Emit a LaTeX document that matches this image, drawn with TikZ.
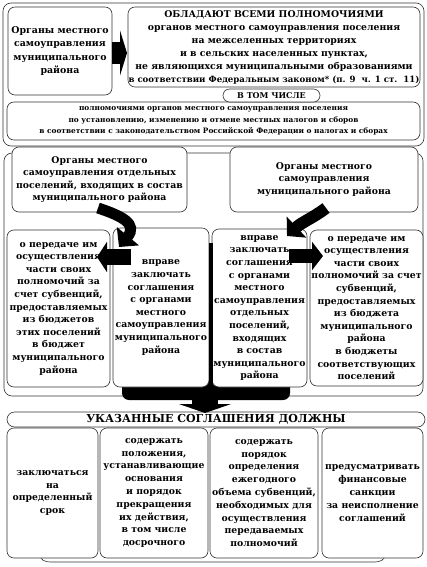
\documentclass[tikz,border=0pt]{standalone}
\usepackage{fontspec}
\setmainfont{DejaVu Serif}
\usetikzlibrary{arrows.meta}
\begin{document}
\begin{tikzpicture}[x=1pt,y=-1pt,
  box/.style={draw=black!80, line width=0.6pt, rounded corners=7pt, fill=white, align=center, inner sep=0pt},
  frame/.style={draw=black!80, line width=0.6pt, rounded corners=8pt},
  tA/.style={font=\fontsize{9.4}{13.5}\selectfont\bfseries},
  tB/.style={font=\fontsize{9.3}{13}\selectfont\bfseries},
  tC/.style={font=\fontsize{7.4}{11.5}\selectfont\bfseries},
  tM/.style={font=\fontsize{9.3}{12.6}\selectfont\bfseries},
  tK/.style={font=\fontsize{9.3}{12.8}\selectfont\bfseries},
  fat/.style={draw=black, line width=#1},
]
\useasboundingbox (0,0) rectangle (427,567);

% frames
\draw[frame] (3,3) rectangle (424,146);
\draw[frame] (4,153) rectangle (423,396);
\draw[draw=black!80, line width=0.6pt] (40,555) to[out=-90,in=180] (50,562) -- (375,562) to[out=0,in=-90] (385,555);

% top section
\node[box, tA, minimum width=104, minimum height=88] (A) at (60,51)
  {Органы местного\\самоуправления\\муниципального\\района};
\node[box, tB, minimum width=292, minimum height=80] (B) at (274,47)
  {ОБЛАДАЮТ ВСЕМИ ПОЛНОМОЧИЯМИ\\органов местного самоуправления поселения\\на межселенных территориях\\и в сельских населенных пунктах,\\не являющихся муниципальными образованиями\\{\fontsize{8.6}{13}\selectfont в соответствии Федеральным законом* (п. 9\ \ ч. 1 ст.\ \ 11)}};
\node[box, tC, minimum width=413, minimum height=38] (C) at (213.5,121)
  {полномочиями органов местного самоуправления поселения\\по установлению, изменению и отмене местных налогов и сборов\\в соответствии с законодательством Российской Федерации о налогах и сборах};
\node[box, font=\fontsize{8}{9}\selectfont\bfseries, rounded corners=6.5pt, minimum width=97, minimum height=13] (P) at (271.5,95.5) {В ТОМ ЧИСЛЕ};

\coordinate (a1) at (A.east |- 0,53);
\coordinate (b1) at (127,53);
\draw[fat=22pt, -{Triangle[length=7pt,width=45pt]}] (a1) -- (b1);

% middle section
\fill[rounded corners=7pt] (122,375) rectangle (290,400);
\node[box, tM, minimum width=175, minimum height=65] (D) at (99.5,179.5)
  {Органы местного\\самоуправления отдельных\\поселений, входящих в состав\\муниципального района};
\node[box, tM, minimum width=188, minimum height=65] (E) at (324,179.5)
  {Органы местного\\самоуправления\\муниципального района};
\node[box, tM, minimum width=103, minimum height=157] (F) at (58.5,308.5)
  {о передаче им\\осуществления\\части своих\\полномочий за\\счет субвенций,\\предоставляемых\\из бюджетов\\этих поселений\\в бюджет\\муниципального\\района};
\node[box, tM, minimum width=96, minimum height=159] (G) at (161,307.5)
  {вправе\\заключать\\соглашения\\с органами\\местного\\самоуправления\\муниципального\\района};
\node[box, tM, minimum width=95, minimum height=158] (H) at (259.5,308)
  {вправе\\заключать\\соглашения\\с органами\\местного\\самоуправления\\отдельных\\поселений,\\входящих\\в состав\\муниципального\\района};
\node[box, tM, minimum width=113, minimum height=156] (I) at (366.5,308)
  {о передаче им\\осуществления\\части своих\\полномочий за счет\\субвенций,\\предоставляемых\\из бюджета\\муниципального\\района\\в бюджеты\\соответствующих\\поселений};

% black bar between G and H
\fill (G.east |- 0,243) rectangle ([xshift=3.5pt]G.south east);

% curved arrows
\coordinate (d1) at (98,208);
\coordinate (g1) at (119,247);
\draw[fat=11pt, -{Triangle[length=14pt,width=28pt]}] (d1) .. controls (122,216) and (138,224) .. (g1);
\coordinate (e1) at (326,208);
\coordinate (h1) at (287,236);
\draw[fat=12pt, -{Triangle[length=13pt,width=28pt]}] (e1) .. controls (313,218) and (302,222) .. (h1);

% straight arrows
\coordinate (g2) at (131,257);
\coordinate (f2) at (97,257);
\draw[fat=16pt, -{Triangle[length=10pt,width=30pt]}] (g2) -- (f2);
\coordinate (h2) at (289,256);
\coordinate (i2) at (323,256);
\draw[fat=14pt, -{Triangle[length=11pt,width=28pt]}] (h2) -- (i2);

% bottom section
\node[box, font=\fontsize{11}{12}\selectfont\bfseries, rounded corners=7.5pt, minimum width=418, minimum height=15] (J) at (216,419.5) {УКАЗАННЫЕ СОГЛАШЕНИЯ ДОЛЖНЫ};
\coordinate (t1) at (205,398);
\coordinate (t2) at (205,413);
\draw[fat=26pt, -{Triangle[length=9pt,width=52pt]}] (t1) -- (t2);

\node[box, tK, minimum width=91, minimum height=130] (K1) at (52.5,493)
  {заключаться\\на\\определенный\\срок};
\node[box, tK, minimum width=108, minimum height=130] (K2) at (154,493)
  {содержать\\положения,\\устанавливающие\\основания\\и порядок\\прекращения\\их действия,\\в том числе\\досрочного};
\node[box, tK, minimum width=108, minimum height=130] (K3) at (264,493)
  {содержать\\порядок\\определения\\ежегодного\\объема субвенций,\\необходимых для\\осуществления\\передаваемых\\полномочий};
\node[box, tK, minimum width=101, minimum height=130] (K4) at (372.5,493)
  {предусматривать\\финансовые\\санкции\\за неисполнение\\соглашений};
\end{tikzpicture}
\end{document}
